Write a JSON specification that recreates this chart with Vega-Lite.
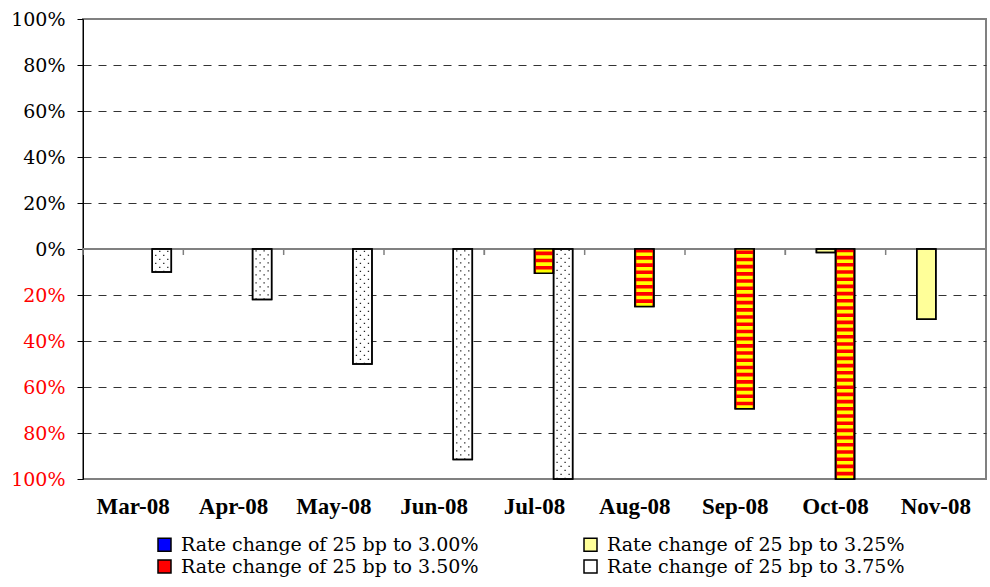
{
  "$schema": "https://vega.github.io/schema/vega-lite/v6.json",
  "width": 903,
  "height": 460,
  "autosize": "none",
  "padding": {"left": 83, "top": 19, "right": 4, "bottom": 108},
  "background": "white",
  "config": {
    "view": {"stroke": "#808080", "strokeWidth": 2},
    "font": "DejaVu Serif"
  },
  "resolve": {"axis": {"x": "independent"}},
  "data": {
    "values": [
      {"month": "Mar-08", "series": "Rate change of 25 bp to 3.75%", "value": -0.10},
      {"month": "Apr-08", "series": "Rate change of 25 bp to 3.75%", "value": -0.22},
      {"month": "May-08", "series": "Rate change of 25 bp to 3.75%", "value": -0.50},
      {"month": "Jun-08", "series": "Rate change of 25 bp to 3.75%", "value": -0.915},
      {"month": "Jul-08", "series": "Rate change of 25 bp to 3.50%", "value": -0.105},
      {"month": "Jul-08", "series": "Rate change of 25 bp to 3.75%", "value": -1.0},
      {"month": "Aug-08", "series": "Rate change of 25 bp to 3.50%", "value": -0.25},
      {"month": "Sep-08", "series": "Rate change of 25 bp to 3.50%", "value": -0.695},
      {"month": "Oct-08", "series": "Rate change of 25 bp to 3.25%", "value": -0.015},
      {"month": "Oct-08", "series": "Rate change of 25 bp to 3.50%", "value": -1.0},
      {"month": "Nov-08", "series": "Rate change of 25 bp to 3.25%", "value": -0.305}
    ]
  },
  "layer": [
    {
      "mark": {"type": "rule", "color": "#808080", "strokeWidth": 2},
      "encoding": {"y": {"datum": 0, "type": "quantitative"}}
    },
    {
      "mark": {"type": "rule", "color": "#808080", "strokeWidth": 1.5},
      "encoding": {
        "x": {"field": "month", "type": "ordinal", "bandPosition": 0, "axis": null},
        "y": {"datum": 0, "type": "quantitative"},
        "y2": {"datum": -0.026}
      }
    },
    {
      "mark": {"type": "bar", "stroke": "#000000", "strokeWidth": 1.5},
      "encoding": {
        "x": {
          "field": "month",
          "type": "ordinal",
          "scale": {
            "domain": ["Mar-08", "Apr-08", "May-08", "Jun-08", "Jul-08", "Aug-08", "Sep-08", "Oct-08", "Nov-08"],
            "paddingInner": 0,
            "paddingOuter": 0
          },
          "axis": {
            "title": null,
            "orient": "bottom",
            "domain": false,
            "ticks": false,
            "grid": false,
            "labelAngle": 0,
            "labelFont": "Times New Roman",
            "labelFontSize": 23,
            "labelFontWeight": "bold",
            "labelColor": "#000000",
            "labelPadding": 16
          }
        },
        "xOffset": {
          "field": "series",
          "type": "nominal",
          "scale": {
            "domain": ["Rate change of 25 bp to 3.00%", "Rate change of 25 bp to 3.25%", "Rate change of 25 bp to 3.50%", "Rate change of 25 bp to 3.75%"],
            "paddingInner": 0,
            "paddingOuter": 0.63
          }
        },
        "y": {
          "field": "value",
          "type": "quantitative",
          "scale": {"domain": [-1, 1], "nice": false},
          "axis": {
            "title": null,
            "values": [-1, -0.8, -0.6, -0.4, -0.2, 0, 0.2, 0.4, 0.6, 0.8, 1],
            "labelExpr": "format(abs(datum.value), '.0%')",
            "labelColor": {"condition": {"test": "datum.value < 0", "value": "#FF0000"}, "value": "#000000"},
            "labelFont": "DejaVu Serif",
            "labelFontSize": 19,
            "labelPadding": 12,
            "tickSize": 6,
            "tickColor": "#000000",
            "domainColor": "#000000",
            "domainWidth": 1,
            "grid": true,
            "gridDash": [8, 7],
            "gridColor": "#333333",
            "gridOpacity": {"condition": {"test": "datum.value == 0 || abs(datum.value) == 1", "value": 0}, "value": 1}
          }
        },
        "fill": {
          "field": "series",
          "type": "nominal",
          "scale": {
            "domain": ["Rate change of 25 bp to 3.00%", "Rate change of 25 bp to 3.25%", "Rate change of 25 bp to 3.50%", "Rate change of 25 bp to 3.75%"],
            "range": ["#0000FF", "#FFFF99", "#FF0000", "#FFFFFF"]
          },
          "legend": {
            "title": null,
            "orient": "none",
            "direction": "horizontal",
            "legendX": 72,
            "legendY": 516,
            "columns": 2,
            "columnPadding": 102,
            "rowPadding": 2,
            "padding": 0,
            "symbolType": "square",
            "symbolSize": 169,
            "symbolStrokeColor": "#000000",
            "symbolStrokeWidth": 1.5,
            "labelFont": "DejaVu Serif",
            "labelFontSize": 19,
            "labelColor": "#000000",
            "labelOffset": 7,
            "labelLimit": 500,
            "encode": {
              "symbols": {
                "update": {
                  "stroke": {"value": "#000000"},
                  "strokeWidth": {"value": 1.5}
                }
              }
            }
          }
        }
      }
    },
    {
      "transform": [{"filter": "datum.series == 'Rate change of 25 bp to 3.50%'"}],
      "mark": {"type": "rule", "color": "#FF0000", "strokeWidth": 16},
      "encoding": {
        "x": {"field": "month", "type": "ordinal", "axis": null},
        "xOffset": {"field": "series", "type": "nominal"},
        "y": {"field": "value", "type": "quantitative"},
        "y2": {"datum": 0}
      }
    },
    {
      "transform": [{"filter": "datum.series == 'Rate change of 25 bp to 3.50%'"}],
      "mark": {"type": "rule", "color": "#FFFF00", "strokeWidth": 16, "strokeDash": [3.6, 3.6]},
      "encoding": {
        "x": {"field": "month", "type": "ordinal", "axis": null},
        "xOffset": {"field": "series", "type": "nominal"},
        "y": {"field": "value", "type": "quantitative"},
        "y2": {"datum": 0}
      }
    },
    {
      "transform": [{"filter": "datum.series == 'Rate change of 25 bp to 3.75%'"}],
      "mark": {"type": "rule", "color": "#222222", "strokeWidth": 1.3, "strokeDash": [1.3, 6.7]},
      "encoding": {
        "x": {"field": "month", "type": "ordinal", "bandPosition": 0.725, "axis": null},
        "y": {"field": "value", "type": "quantitative"},
        "y2": {"datum": 0}
      }
    },
    {
      "transform": [{"filter": "datum.series == 'Rate change of 25 bp to 3.75%'"}],
      "mark": {"type": "rule", "color": "#222222", "strokeWidth": 1.3, "strokeDash": [1.3, 6.7], "strokeDashOffset": 4},
      "encoding": {
        "x": {"field": "month", "type": "ordinal", "bandPosition": 0.765, "axis": null},
        "y": {"field": "value", "type": "quantitative"},
        "y2": {"datum": 0}
      }
    },
    {
      "transform": [{"filter": "datum.series == 'Rate change of 25 bp to 3.75%'"}],
      "mark": {"type": "rule", "color": "#222222", "strokeWidth": 1.3, "strokeDash": [1.3, 6.7]},
      "encoding": {
        "x": {"field": "month", "type": "ordinal", "bandPosition": 0.805, "axis": null},
        "y": {"field": "value", "type": "quantitative"},
        "y2": {"datum": 0}
      }
    },
    {
      "transform": [{"filter": "datum.series == 'Rate change of 25 bp to 3.75%'"}],
      "mark": {"type": "rule", "color": "#222222", "strokeWidth": 1.3, "strokeDash": [1.3, 6.7], "strokeDashOffset": 4},
      "encoding": {
        "x": {"field": "month", "type": "ordinal", "bandPosition": 0.845, "axis": null},
        "y": {"field": "value", "type": "quantitative"},
        "y2": {"datum": 0}
      }
    },
    {
      "mark": {"type": "bar", "fillOpacity": 0, "stroke": "#000000", "strokeWidth": 1.5},
      "encoding": {
        "x": {"field": "month", "type": "ordinal", "axis": null},
        "xOffset": {"field": "series", "type": "nominal"},
        "y": {"field": "value", "type": "quantitative"}
      }
    }
  ]
}
